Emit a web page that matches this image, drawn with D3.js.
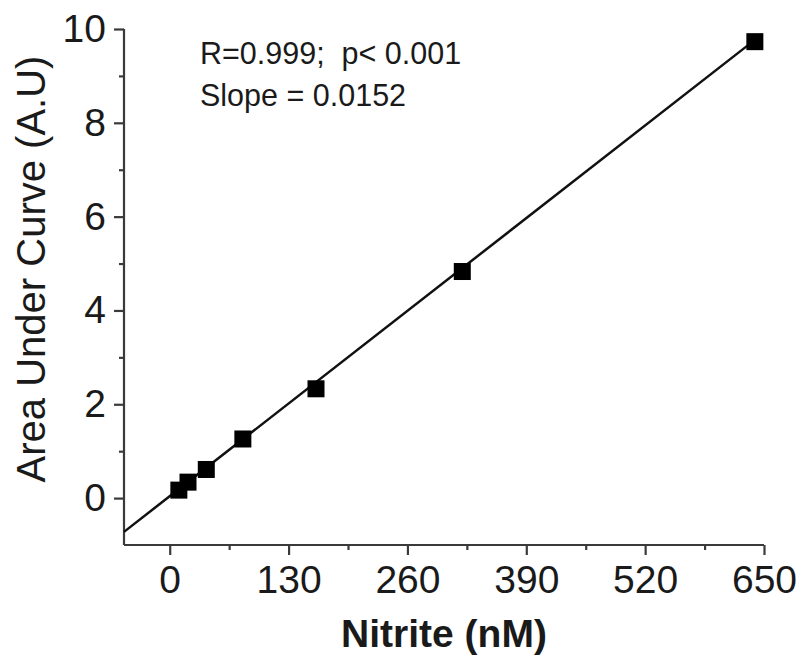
<!DOCTYPE html>
<html>
<head>
<meta charset="utf-8">
<script src="https://cdn.jsdelivr.net/npm/d3@7"></script>
<style>
  html, body { margin: 0; padding: 0; background: #fff; }
  svg { display: block; font-family: "Liberation Sans", Arial, sans-serif; }
</style>
</head>
<body>
<svg id="chart" width="804" height="656"></svg>
<script>
// ---- data ----
const nitrite = [10, 20, 40, 80, 160, 320, 640];
const auc = [0.17, 0.34, 0.61, 1.26, 2.33, 4.83, 9.73];
const fitSlope = 0.0152;
const fitIntercept = 0.04;
const fitRange = [-50, 640];
const xTicks = [0, 130, 260, 390, 520, 650];
const xMinorTicks = [65, 195, 325, 455, 585];
const yTicks = [0, 2, 4, 6, 8, 10];
const yMinorTicks = [1, 3, 5, 7, 9];
const annotations = ["R=0.999;  p< 0.001", "Slope = 0.0152"];
const xTitle = "Nitrite (nM)";
const yTitle = "Area Under Curve (A.U)";

// ---- layout ----
const svg = d3.select("#chart");
const mLeft = 124, mRight = 764, mTop = 29, mBottom = 545;
const x = d3.scaleLinear().domain([-50, 650]).range([mLeft, mRight]);
const y = d3.scaleLinear().domain([-1, 10]).range([mBottom, mTop]);
const axisColor = "#3a3a3a";
const textColor = "#1a1a1a";

// x axis
const gx = svg.append("g").attr("transform", `translate(0,${mBottom})`);
gx.call(d3.axisBottom(x).tickValues(xTicks).tickSize(10).tickPadding(10).tickFormat(d3.format("d")));
gx.append("g").call(d3.axisBottom(x).tickValues(xMinorTicks).tickSize(5).tickFormat(""))
  .select(".domain").remove();
gx.selectAll(".domain").attr("d", `M${mLeft},0H${mRight}`);

// y axis
const gy = svg.append("g").attr("transform", `translate(${mLeft},0)`);
gy.call(d3.axisLeft(y).tickValues(yTicks).tickSize(10).tickPadding(8).tickFormat(d3.format("d")));
gy.append("g").call(d3.axisLeft(y).tickValues(yMinorTicks).tickSize(5).tickFormat(""))
  .select(".domain").remove();
gy.selectAll(".domain").attr("d", `M0,${mTop}V${mBottom}`);

svg.selectAll(".domain, .tick line").attr("stroke", axisColor).attr("stroke-width", 2.2);
svg.selectAll(".tick text").attr("fill", textColor).attr("font-size", 39)
  .attr("font-family", "'Liberation Sans', Arial, sans-serif");
gx.selectAll(".tick text").attr("dy", "0.71em");

// fit line
svg.append("line")
  .attr("x1", x(fitRange[0])).attr("y1", y(fitSlope * fitRange[0] + fitIntercept))
  .attr("x2", x(fitRange[1])).attr("y2", y(fitSlope * fitRange[1] + fitIntercept))
  .attr("stroke", "#111").attr("stroke-width", 2.5);

// points
const sq = 17;
svg.append("g").selectAll("rect").data(nitrite).join("rect")
  .attr("x", (d) => x(d) - sq / 2)
  .attr("y", (d, i) => y(auc[i]) - sq / 2)
  .attr("width", sq).attr("height", sq)
  .attr("fill", "#000");

// annotations
svg.append("g").selectAll("text").data(annotations).join("text")
  .attr("x", 200).attr("y", (d, i) => 64 + i * 42)
  .attr("font-size", 30.5).attr("fill", textColor)
  .attr("xml:space", "preserve").style("white-space", "pre")
  .text((d) => d);

// axis titles
svg.append("text")
  .attr("x", (mLeft + mRight) / 2).attr("y", 647)
  .attr("text-anchor", "middle").attr("font-size", 39).attr("font-weight", "bold")
  .attr("fill", textColor).text(xTitle);

svg.append("text")
  .attr("transform", `translate(45,${(50 + 488) / 2}) rotate(-90)`)
  .attr("text-anchor", "middle").attr("font-size", 40)
  .attr("fill", textColor).text(yTitle);
</script>
</body>
</html>
